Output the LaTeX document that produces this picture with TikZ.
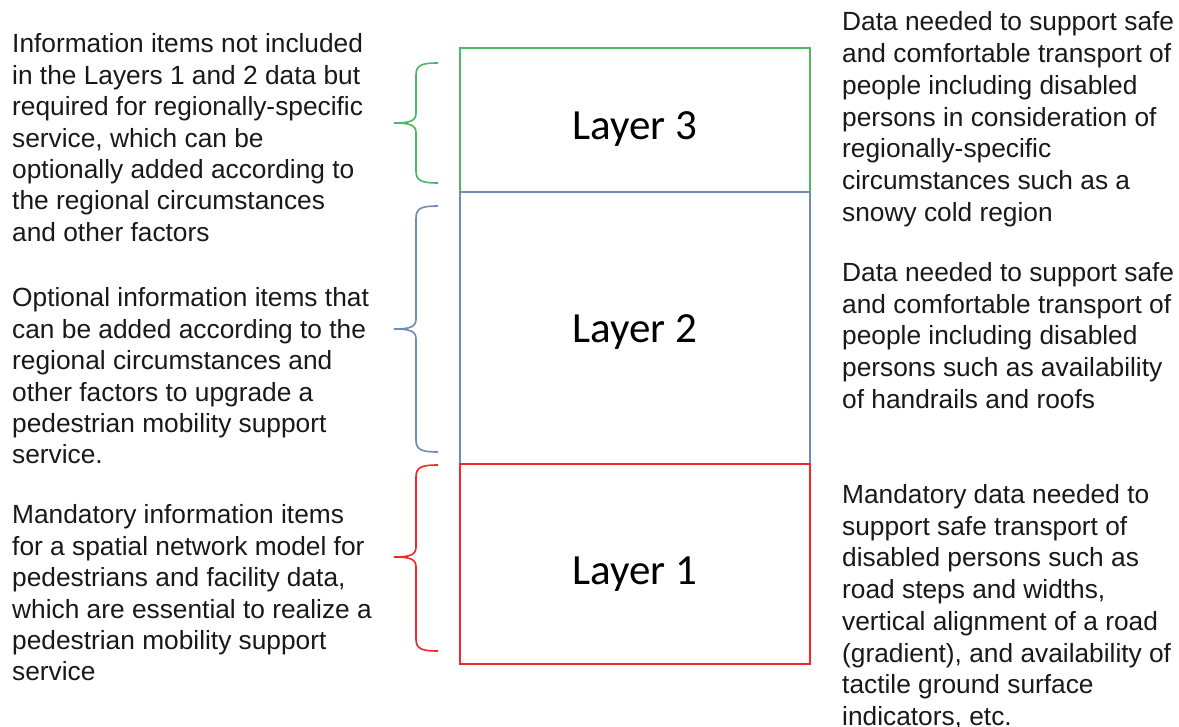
\documentclass[tikz,border=0pt]{standalone}
\usepackage{fontspec}
\setmainfont{Liberation Sans}
\newfontfamily\layerfont{Carlito}
\definecolor{lgreen}{RGB}{76,184,100}
\definecolor{lblue}{RGB}{110,140,180}
\definecolor{lred}{RGB}{240,40,44}
\definecolor{txtc}{RGB}{25,25,25}
\newcommand\layerbrace[4]{\draw[#1,bracepath] (438,#2) .. controls (422,#2) and (416,{#2+2}) .. (416,{#2+12}) -- (416,{#3-10}) .. controls (416,{#3-2}) and (410,#3) .. (394,#3) .. controls (410,#3) and (416,{#3+2}) .. (416,{#3+10}) -- (416,{#4-12}) .. controls (416,{#4-2}) and (422,#4) .. (438,#4);}
\begin{document}
\begin{tikzpicture}[x=1pt,y=-1pt,
 desc/.style={anchor=north west, inner sep=0pt, align=left, text=txtc, font=\fontsize{26.3}{31.4}\selectfont},
 descr/.style={desc, font=\fontsize{26.3}{31.75}\selectfont},
 layerbox/.style={draw, line width=2pt, minimum width=350pt, inner sep=0pt, anchor=north west},
 layerlabel/.style={anchor=base, font=\layerfont\fontsize{43}{50}\selectfont, text=black, inner sep=0pt},
 bracepath/.style={line width=1.6pt}]
\useasboundingbox (0,0) rectangle (1179,727);
\fill[white] (0,0) rectangle (1179,727);
% layer boxes
\node[layerbox, draw=lgreen, minimum height=144pt] (L3) at (459,47) {};
\node[layerbox, draw=lblue, minimum height=272pt] (L2) at (459,191) {};
\node[layerbox, draw=lred, minimum height=200pt] (L1) at (459,463) {};
\node[layerlabel] (t3) at (635,140) {Layer 3};
\node[layerlabel] (t2) at (635,343) {Layer 2};
\node[layerlabel] (t1) at (635,584) {Layer 1};
% braces
\layerbrace{lgreen}{63}{123}{183}
\layerbrace{lblue}{206}{329}{452}
\layerbrace{lred}{465}{557}{651}
% left descriptions
\node[desc] (dl3) at (12,29) {\rule{0pt}{0.9em}Information items not included\\in the Layers 1 and 2 data but\\required for regionally-specific\\service, which can be\\optionally added according to\\the regional circumstances\\and other factors};
\node[desc] (dl2) at (12,283) {\rule{0pt}{0.9em}Optional information items that\\can be added according to the\\regional circumstances and\\other factors to upgrade a\\pedestrian mobility support\\service.};
\node[desc] (dl1) at (12,500) {\rule{0pt}{0.9em}Mandatory information items\\for a spatial network model for\\pedestrians and facility data,\\which are essential to realize a\\pedestrian mobility support\\service};
% right descriptions
\node[descr] (dr3) at (842,7) {\rule{0pt}{0.9em}Data needed to support safe\\and comfortable transport of\\people including disabled\\persons in consideration of\\regionally-specific\\circumstances such as a\\snowy cold region};
\node[descr] (dr2) at (842,257.5) {\rule{0pt}{0.9em}Data needed to support safe\\and comfortable transport of\\people including disabled\\persons such as availability\\of handrails and roofs};
\node[descr] (dr1) at (842,479.5) {\rule{0pt}{0.9em}Mandatory data needed to\\support safe transport of\\disabled persons such as\\road steps and widths,\\vertical alignment of a road\\(gradient), and availability of\\tactile ground surface\\indicators, etc.};
\end{tikzpicture}
\end{document}
